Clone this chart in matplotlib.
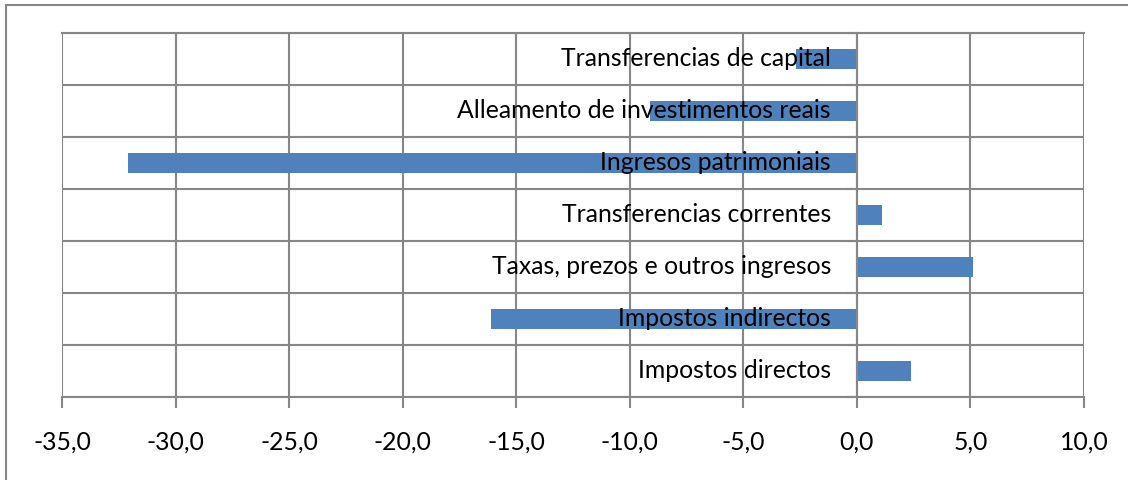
import matplotlib
matplotlib.use("Agg")
import matplotlib.pyplot as plt
from matplotlib.lines import Line2D
from matplotlib.ticker import FuncFormatter
import matplotlib.transforms as mtransforms

categories = [
    "Impostos directos",
    "Impostos indirectos",
    "Taxas, prezos e outros ingresos",
    "Transferencias correntes",
    "Ingresos patrimoniais",
    "Alleamento de investimentos reais",
    "Transferencias de capital",
]
values = [2.4, -16.1, 5.1, 1.1, -32.1, -9.1, -2.7]
x_ticks = [-35, -30, -25, -20, -15, -10, -5, 0, 5, 10]

plt.rcParams['font.family'] = ['Lato', 'DejaVu Sans']
GRID = "#878787"
FS = 17.8

fig = plt.figure(figsize=(11.28, 4.8), dpi=100)
ax = fig.add_axes([62/1128, 1-397/480, 1022/1128, 364/480])
ax.set_axisbelow(True)

ypos = list(range(len(categories)))
ax.barh(ypos, values, height=0.39, color="#4F81BD", zorder=2)

ax.set_xlim(-35, 10)
ax.set_ylim(-0.5, len(categories) - 0.5)
ax.set_xticks(x_ticks)
ax.xaxis.set_major_formatter(FuncFormatter(lambda v, p: f"{v:.1f}".replace(".", ",")))
ax.tick_params(axis='x', direction='out', length=8, width=1.5, color=GRID,
               labelsize=FS, pad=16)
ax.set_yticks([i - 0.5 for i in range(len(categories) + 1)])
ax.set_yticklabels([])
ax.tick_params(axis='y', direction='out', length=8, width=1.5, color=GRID)
ax.grid(True, color=GRID, linewidth=1.5)

for s in ['top', 'bottom', 'right']:
    ax.spines[s].set_color(GRID)
    ax.spines[s].set_linewidth(1.5)
ax.spines['right'].set_visible(False)
ax.spines['left'].set_position(('data', 0))
ax.spines['left'].set_color(GRID)
ax.spines['left'].set_linewidth(1.5)

offset = mtransforms.ScaledTranslation(-26/100, 0, fig.dpi_scale_trans)
for i, c in enumerate(categories):
    ax.text(0, i, c, ha='right', va='center', fontsize=FS, color='black',
            transform=ax.transData + offset, zorder=5)

fig.add_artist(Line2D([5.5/1128, 5.5/1128], [0, 1-4.5/480], transform=fig.transFigure,
                      color=GRID, linewidth=1.5))
fig.add_artist(Line2D([5.5/1128, 1], [1-4.5/480, 1-4.5/480], transform=fig.transFigure,
                      color=GRID, linewidth=1.5))

fig.savefig("out.png", dpi=100)
